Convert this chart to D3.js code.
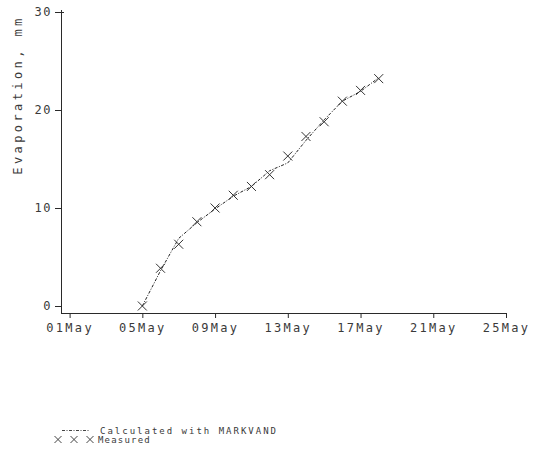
<!DOCTYPE html>
<html>
<head>
<meta charset="utf-8">
<script src="https://cdn.jsdelivr.net/npm/d3@7"></script>
<style>
  html, body { margin: 0; padding: 0; background: #fff; }
  svg { display: block; }
  text { font-family: "DejaVu Sans Mono", "Liberation Mono", monospace; fill: #3a3a3a; }
</style>
</head>
<body>
<svg id="chart" width="548" height="456"></svg>
<script>
// ---- data ----
const measuredDays = [5, 6, 7, 8, 9, 10, 11, 12, 13, 14, 15, 16, 17, 18];
const measuredValues = [0, 3.85, 6.3, 8.6, 10.0, 11.3, 12.2, 13.4, 15.3, 17.3, 18.8, 20.9, 22.0, 23.2];
const calculatedDays = [5, 6, 7, 8, 9, 10, 11, 12, 13, 14, 15, 16, 17, 18];
const calculatedValues = [0, 3.6, 6.9, 8.5, 9.9, 11.2, 12.2, 13.8, 14.6, 16.9, 19.0, 20.9, 21.9, 23.3];
const xTickDays = [1, 5, 9, 13, 17, 21, 25];
const yTickValues = [0, 10, 20, 30];
const yAxisLabel = "Evaporation, mm";
const legendCalculated = "Calculated with MARKVAND";
const legendMeasured = "Measured";

const YEAR = 1987;
const toDate = d => new Date(Date.UTC(YEAR, 4, d));

const svg = d3.select("#chart");

const x = d3.scaleUtc().domain([toDate(1), toDate(25)]).range([69.6, 506]);
const y = d3.scaleLinear().domain([0, 30]).range([306, 12]);

const axisColor = "#2a2a2a";
const fmt = d3.utcFormat("%d%b");

// x axis
const xAxisY = 313;
const gx = svg.append("g").attr("transform", `translate(0,${xAxisY})`)
  .call(d3.axisBottom(x).tickValues(xTickDays.map(toDate)).tickFormat(fmt).tickSize(5).tickPadding(5));
gx.select(".domain").remove();
gx.selectAll(".tick line").attr("stroke", axisColor);
gx.selectAll(".tick text").attr("font-size", 12).attr("letter-spacing", 2.3)
  .attr("font-family", "DejaVu Sans Mono").attr("fill", "#3a3a3a");
svg.append("line").attr("x1", 61).attr("x2", x(toDate(25)) + 0.5)
  .attr("y1", xAxisY + 0.5).attr("y2", xAxisY + 0.5).attr("stroke", axisColor).attr("stroke-width", 1);

// y axis
const yAxisX = 61;
const gy = svg.append("g").attr("transform", `translate(${yAxisX},0)`)
  .call(d3.axisLeft(y).tickValues(yTickValues).tickSize(6).tickPadding(3));
gy.select(".domain").remove();
gy.selectAll(".tick line").attr("stroke", axisColor);
gy.selectAll(".tick text").attr("font-size", 12).attr("letter-spacing", 1.5)
  .attr("font-family", "DejaVu Sans Mono").attr("fill", "#3a3a3a");
svg.append("line").attr("x1", yAxisX + 0.5).attr("x2", yAxisX + 0.5)
  .attr("y1", y(30) - 2).attr("y2", xAxisY + 0.5).attr("stroke", axisColor).attr("stroke-width", 1);
svg.append("line").attr("x1", yAxisX).attr("x2", yAxisX + 3)
  .attr("y1", y(30) + 0.5).attr("y2", y(30) + 0.5).attr("stroke", axisColor).attr("stroke-width", 1);

// y axis label
svg.append("text")
  .attr("transform", `translate(22,${(y(30) + y(0)) / 2 - 64}) rotate(-90)`)
  .attr("text-anchor", "middle")
  .attr("font-size", 12).attr("letter-spacing", 3.4)
  .text(yAxisLabel);

// calculated line
const calc = calculatedDays.map((d, i) => ({ date: toDate(d), v: calculatedValues[i] }));
const line = d3.line().x(d => x(d.date)).y(d => y(d.v));
svg.append("path").datum(calc).attr("d", line)
  .attr("fill", "none").attr("stroke", "#222").attr("stroke-width", 1)
  .attr("stroke-dasharray", "3,1.5,1,1.5");

// measured markers
const meas = measuredDays.map((d, i) => ({ date: toDate(d), v: measuredValues[i] }));
const s = 4.5;
const crossPath = `M${-s},${-s}L${s},${s}M${-s},${s}L${s},${-s}`;
svg.append("g").selectAll("path").data(meas).join("path")
  .attr("transform", d => `translate(${x(d.date)},${y(d.v)})`)
  .attr("d", crossPath).attr("stroke", "#333").attr("stroke-width", 1).attr("fill", "none");

// legend
const lg = svg.append("g");
lg.append("line").attr("x1", 62).attr("x2", 90).attr("y1", 430.5).attr("y2", 430.5)
  .attr("stroke", "#444").attr("stroke-width", 1).attr("stroke-dasharray", "3,1.5,1,1.5");
lg.append("text").attr("x", 100).attr("y", 434).attr("font-size", 9).attr("letter-spacing", 2.0)
  .text(legendCalculated);
const legendMarkers = [58, 74, 90];
lg.selectAll("path.lm").data(legendMarkers).join("path").attr("class", "lm")
  .attr("transform", d => `translate(${d},439.5)`)
  .attr("d", `M-3.5,-3.5L3.5,3.5M-3.5,3.5L3.5,-3.5`)
  .attr("stroke", "#444").attr("stroke-width", 1);
lg.append("text").attr("x", 98).attr("y", 443).attr("font-size", 9).attr("letter-spacing", 1.2)
  .text(legendMeasured);
</script>
</body>
</html>
